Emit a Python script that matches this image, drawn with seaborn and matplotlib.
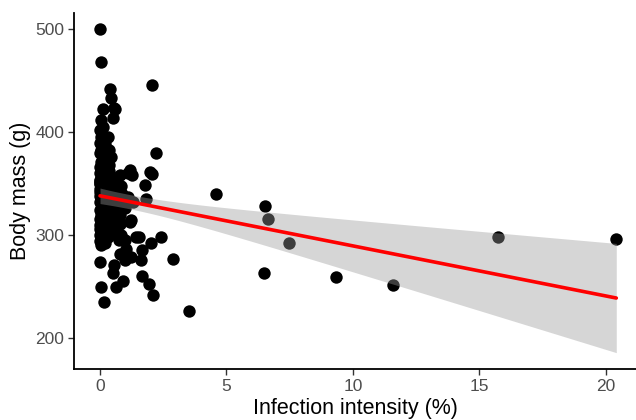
import numpy as np
import pandas as pd
import seaborn as sns
from matplotlib import pyplot as plt

# infection intensity (%) and body mass (g)
intensity = [4.58, 6.52, 6.66, 7.48, 6.48, 9.33, 11.58, 15.76, 20.42, 3.52,
             2.04, 2.22, 1.27, 2.05, 1.79, 1.30, 1.83, 1.23, 1.54, 2.40,
             2.03, 1.67, 1.21, 1.63, 2.89, 1.66, 1.93, 2.09, 0.97, 0.57,
             0.97, 0.50, 0.90, 0.64, 0.04, 0.17, 0.00, 1.03, 0.77, 1.03,
             1.17, 0.77, 0.50, 0.64, 1.17, 0.77, 0.50, 1.10, 0.84, 0.97,
             0.70, 0.84, 1.43, 1.96, 1.10,
             0.00, 0.02, 0.38, 0.44, 0.57, 0.13, 0.50, 0.04, 0.00, 0.04,
             0.20, 0.04, 0.37, 0.44, 0.04, 0.00, 0.37, 0.60,
             0.00, 0.10, 0.25, 0.05, 0.30, 0.00, 0.15, 0.40, 0.05, 0.20,
             0.00, 0.30, 0.10, 0.45, 0.00, 0.20, 0.05, 0.35, 0.00, 0.15,
             0.25, 0.00, 0.10, 0.40, 0.05, 0.20, 0.00, 0.30, 0.10, 0.00,
             0.20, 0.05, 0.15, 0.35, 0.00, 0.50, 0.60, 0.55, 0.65, 0.70,
             0.25, 0.00, 0.10, 0.35, 0.45, 0.00, 0.30, 0.08, 0.50, 0.80,
             0.90, 0.60, 0.75, 0.00, 0.10, 0.00, 0.12, 0.30, 0.20, 0.45,
             0.00, 0.05, 0.10, 0.15, 0.20, 0.00, 0.05, 0.10, 0.15, 0.25,
             0.00, 0.08, 0.12, 0.18, 0.30, 0.02, 0.06, 0.22, 0.00, 0.10,
             0.55, 0.70, 0.85, 0.65]
body_mass = [340, 328, 316, 292, 263, 259, 252, 298, 296, 226,
             446, 380, 358, 359, 349, 332, 335, 315, 298, 298,
             292, 286, 279, 276, 277, 260, 253, 242, 295, 271,
             276, 263, 255, 250, 250, 235, 274, 287, 282, 279,
             363, 358, 353, 347, 313, 311, 305, 337, 348, 326,
             316, 300, 298, 361, 360,
             500, 468, 442, 433, 424, 423, 414, 412, 402, 395,
             389, 383, 383, 376, 371, 366, 368, 423,
             360, 356, 352, 348, 345, 342, 340, 338, 336, 334,
             332, 330, 328, 326, 324, 322, 320, 318, 316, 314,
             312, 310, 308, 306, 304, 302, 300, 298, 296, 294,
             292, 290, 358, 362, 354, 332, 340, 320, 330, 336,
             326, 338, 344, 300, 310, 306, 350, 318, 344, 320,
             330, 308, 295, 380, 376, 390, 405, 395, 372, 356,
             345, 341, 347, 339, 343, 351, 337, 349, 342, 346,
             353, 340, 344, 348, 338, 355, 341, 346, 350, 343,
             352, 345, 340, 356]

df = pd.DataFrame({'intensity': intensity, 'mass': body_mass})

sns.set_style('white')
plt.rcParams['font.family'] = ['Liberation Sans', 'DejaVu Sans']

fig = plt.figure(figsize=(6.36, 4.2), dpi=100)
ax = fig.add_axes([74 / 636, 51 / 420, 562 / 636, 356 / 420])

sns.scatterplot(data=df, x='intensity', y='mass', color='black', s=80,
                linewidth=0, ax=ax, zorder=2)
sns.regplot(data=df, x='intensity', y='mass', scatter=False, ci=None, ax=ax,
            color='red', line_kws={'lw': 2.6, 'zorder': 4})

# ggplot-style standard-error ribbon (t-based 95% CI of the mean fit)
x = df['intensity'].to_numpy()
y = df['mass'].to_numpy()
n = len(x)
slope, intercept = np.polyfit(x, y, 1)
resid = y - (intercept + slope * x)
s = np.sqrt(np.sum(resid ** 2) / (n - 2))
grid = np.linspace(x.min(), x.max(), 100)
se = s * np.sqrt(1 / n + (grid - x.mean()) ** 2 / np.sum((x - x.mean()) ** 2))
fit = intercept + slope * grid
ax.fill_between(grid, fit - 1.977 * se, fit + 1.977 * se, color='#999999',
                alpha=0.4, linewidth=0, zorder=3)

ax.set_xlim(-1.03, 21.2)
ax.set_ylim(170, 515.8)
ax.set_xticks([0, 5, 10, 15, 20])
ax.set_yticks([200, 300, 400, 500])
ax.tick_params(axis='both', colors='#333333', labelcolor='#4d4d4d',
               labelsize=12.5, length=4, width=1, direction='out',
               bottom=True, left=True, pad=3)
for side in ['top', 'right']:
    ax.spines[side].set_visible(False)
for side in ['left', 'bottom']:
    ax.spines[side].set_color('black')
    ax.spines[side].set_linewidth(1.3)
ax.set_xlabel('Infection intensity (%)', fontsize=15.5, color='black', labelpad=3)
ax.set_ylabel('Body mass (g)', fontsize=15.5, color='black', labelpad=3)

plt.savefig('out.png', dpi=100)
